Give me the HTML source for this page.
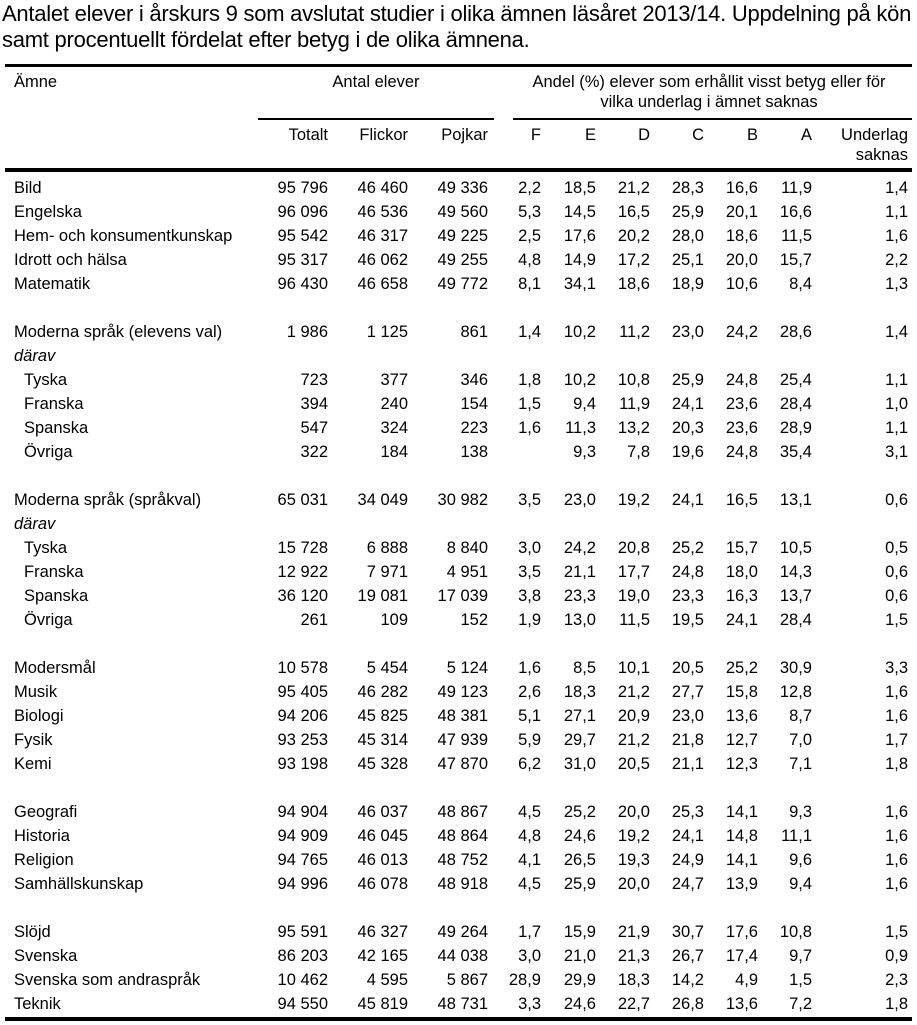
<!DOCTYPE html>
<html><head><meta charset="utf-8"><style>
body{margin:0;width:917px;height:1024px;background:#fff;position:relative;overflow:hidden;font-family:"Liberation Sans",Arial,sans-serif;color:#000}
.t{position:absolute;left:2px;font-size:22px;white-space:nowrap;letter-spacing:-0.25px;line-height:26px}
.r{position:absolute;left:0;width:917px;height:24px;line-height:24px;font-size:16.5px;white-space:nowrap}
.r span{position:absolute;top:0}
.l{left:14px}.i{left:24px}
.a{right:589px}.b{right:509px}.c{right:429px}.d{right:376px}.e{right:321px}.f{right:267px}.g{right:213px}.h{right:159px}.k{right:105px}.m{right:9px}
.rule{position:absolute;background:#000}
.hd{position:absolute;font-size:16.5px;line-height:20px;white-space:nowrap}
#body{position:absolute;left:0;top:1px;width:917px;height:1024px}
</style></head><body>
<div class="t" style="top:1px">Antalet elever i årskurs 9 som avslutat studier i olika ämnen läsåret 2013/14. Uppdelning på kön</div>
<div class="t" style="top:27px">samt procentuellt fördelat efter betyg i de olika ämnena.</div>
<div class="rule" style="left:5px;width:907px;top:64px;height:3px"></div>
<div class="hd" style="left:14px;top:72px">Ämne</div>
<div class="hd" style="left:258px;width:236px;text-align:center;top:72px">Antal elever</div>
<div class="hd" style="left:507px;width:404px;text-align:center;top:72px">Andel (%) elever som erhållit visst betyg eller för<br>vilka underlag i ämnet saknas</div>
<div class="rule" style="left:258px;width:236px;top:118px;height:2px"></div>
<div class="rule" style="left:513px;width:399px;top:118px;height:2px"></div>
<div class="r" style="top:123px"><span class="a">Totalt</span><span class="b">Flickor</span><span class="c">Pojkar</span><span class="d">F</span><span class="e">E</span><span class="f">D</span><span class="g">C</span><span class="h">B</span><span class="k">A</span></div>
<div class="hd" style="right:9px;top:125px;text-align:right">Underlag<br>saknas</div>
<div class="rule" style="left:5px;width:907px;top:168px;height:4px"></div>
<div id="body">
<div class="r" style="top:175px"><span class="l">Bild</span><span class="a">95 796</span><span class="b">46 460</span><span class="c">49 336</span><span class="d">2,2</span><span class="e">18,5</span><span class="f">21,2</span><span class="g">28,3</span><span class="h">16,6</span><span class="k">11,9</span><span class="m">1,4</span></div>
<div class="r" style="top:199px"><span class="l">Engelska</span><span class="a">96 096</span><span class="b">46 536</span><span class="c">49 560</span><span class="d">5,3</span><span class="e">14,5</span><span class="f">16,5</span><span class="g">25,9</span><span class="h">20,1</span><span class="k">16,6</span><span class="m">1,1</span></div>
<div class="r" style="top:223px"><span class="l">Hem- och konsumentkunskap</span><span class="a">95 542</span><span class="b">46 317</span><span class="c">49 225</span><span class="d">2,5</span><span class="e">17,6</span><span class="f">20,2</span><span class="g">28,0</span><span class="h">18,6</span><span class="k">11,5</span><span class="m">1,6</span></div>
<div class="r" style="top:247px"><span class="l">Idrott och hälsa</span><span class="a">95 317</span><span class="b">46 062</span><span class="c">49 255</span><span class="d">4,8</span><span class="e">14,9</span><span class="f">17,2</span><span class="g">25,1</span><span class="h">20,0</span><span class="k">15,7</span><span class="m">2,2</span></div>
<div class="r" style="top:271px"><span class="l">Matematik</span><span class="a">96 430</span><span class="b">46 658</span><span class="c">49 772</span><span class="d">8,1</span><span class="e">34,1</span><span class="f">18,6</span><span class="g">18,9</span><span class="h">10,6</span><span class="k">8,4</span><span class="m">1,3</span></div>

<div class="r" style="top:319px"><span class="l">Moderna språk (elevens val)</span><span class="a">1 986</span><span class="b">1 125</span><span class="c">861</span><span class="d">1,4</span><span class="e">10,2</span><span class="f">11,2</span><span class="g">23,0</span><span class="h">24,2</span><span class="k">28,6</span><span class="m">1,4</span></div>
<div class="r" style="top:343px"><span class="l"><i>därav</i></span></div>
<div class="r" style="top:367px"><span class="i">Tyska</span><span class="a">723</span><span class="b">377</span><span class="c">346</span><span class="d">1,8</span><span class="e">10,2</span><span class="f">10,8</span><span class="g">25,9</span><span class="h">24,8</span><span class="k">25,4</span><span class="m">1,1</span></div>
<div class="r" style="top:391px"><span class="i">Franska</span><span class="a">394</span><span class="b">240</span><span class="c">154</span><span class="d">1,5</span><span class="e">9,4</span><span class="f">11,9</span><span class="g">24,1</span><span class="h">23,6</span><span class="k">28,4</span><span class="m">1,0</span></div>
<div class="r" style="top:415px"><span class="i">Spanska</span><span class="a">547</span><span class="b">324</span><span class="c">223</span><span class="d">1,6</span><span class="e">11,3</span><span class="f">13,2</span><span class="g">20,3</span><span class="h">23,6</span><span class="k">28,9</span><span class="m">1,1</span></div>
<div class="r" style="top:439px"><span class="i">Övriga</span><span class="a">322</span><span class="b">184</span><span class="c">138</span><span class="e">9,3</span><span class="f">7,8</span><span class="g">19,6</span><span class="h">24,8</span><span class="k">35,4</span><span class="m">3,1</span></div>

<div class="r" style="top:487px"><span class="l">Moderna språk (språkval)</span><span class="a">65 031</span><span class="b">34 049</span><span class="c">30 982</span><span class="d">3,5</span><span class="e">23,0</span><span class="f">19,2</span><span class="g">24,1</span><span class="h">16,5</span><span class="k">13,1</span><span class="m">0,6</span></div>
<div class="r" style="top:511px"><span class="l"><i>därav</i></span></div>
<div class="r" style="top:535px"><span class="i">Tyska</span><span class="a">15 728</span><span class="b">6 888</span><span class="c">8 840</span><span class="d">3,0</span><span class="e">24,2</span><span class="f">20,8</span><span class="g">25,2</span><span class="h">15,7</span><span class="k">10,5</span><span class="m">0,5</span></div>
<div class="r" style="top:559px"><span class="i">Franska</span><span class="a">12 922</span><span class="b">7 971</span><span class="c">4 951</span><span class="d">3,5</span><span class="e">21,1</span><span class="f">17,7</span><span class="g">24,8</span><span class="h">18,0</span><span class="k">14,3</span><span class="m">0,6</span></div>
<div class="r" style="top:583px"><span class="i">Spanska</span><span class="a">36 120</span><span class="b">19 081</span><span class="c">17 039</span><span class="d">3,8</span><span class="e">23,3</span><span class="f">19,0</span><span class="g">23,3</span><span class="h">16,3</span><span class="k">13,7</span><span class="m">0,6</span></div>
<div class="r" style="top:607px"><span class="i">Övriga</span><span class="a">261</span><span class="b">109</span><span class="c">152</span><span class="d">1,9</span><span class="e">13,0</span><span class="f">11,5</span><span class="g">19,5</span><span class="h">24,1</span><span class="k">28,4</span><span class="m">1,5</span></div>

<div class="r" style="top:655px"><span class="l">Modersmål</span><span class="a">10 578</span><span class="b">5 454</span><span class="c">5 124</span><span class="d">1,6</span><span class="e">8,5</span><span class="f">10,1</span><span class="g">20,5</span><span class="h">25,2</span><span class="k">30,9</span><span class="m">3,3</span></div>
<div class="r" style="top:679px"><span class="l">Musik</span><span class="a">95 405</span><span class="b">46 282</span><span class="c">49 123</span><span class="d">2,6</span><span class="e">18,3</span><span class="f">21,2</span><span class="g">27,7</span><span class="h">15,8</span><span class="k">12,8</span><span class="m">1,6</span></div>
<div class="r" style="top:703px"><span class="l">Biologi</span><span class="a">94 206</span><span class="b">45 825</span><span class="c">48 381</span><span class="d">5,1</span><span class="e">27,1</span><span class="f">20,9</span><span class="g">23,0</span><span class="h">13,6</span><span class="k">8,7</span><span class="m">1,6</span></div>
<div class="r" style="top:727px"><span class="l">Fysik</span><span class="a">93 253</span><span class="b">45 314</span><span class="c">47 939</span><span class="d">5,9</span><span class="e">29,7</span><span class="f">21,2</span><span class="g">21,8</span><span class="h">12,7</span><span class="k">7,0</span><span class="m">1,7</span></div>
<div class="r" style="top:751px"><span class="l">Kemi</span><span class="a">93 198</span><span class="b">45 328</span><span class="c">47 870</span><span class="d">6,2</span><span class="e">31,0</span><span class="f">20,5</span><span class="g">21,1</span><span class="h">12,3</span><span class="k">7,1</span><span class="m">1,8</span></div>

<div class="r" style="top:799px"><span class="l">Geografi</span><span class="a">94 904</span><span class="b">46 037</span><span class="c">48 867</span><span class="d">4,5</span><span class="e">25,2</span><span class="f">20,0</span><span class="g">25,3</span><span class="h">14,1</span><span class="k">9,3</span><span class="m">1,6</span></div>
<div class="r" style="top:823px"><span class="l">Historia</span><span class="a">94 909</span><span class="b">46 045</span><span class="c">48 864</span><span class="d">4,8</span><span class="e">24,6</span><span class="f">19,2</span><span class="g">24,1</span><span class="h">14,8</span><span class="k">11,1</span><span class="m">1,6</span></div>
<div class="r" style="top:847px"><span class="l">Religion</span><span class="a">94 765</span><span class="b">46 013</span><span class="c">48 752</span><span class="d">4,1</span><span class="e">26,5</span><span class="f">19,3</span><span class="g">24,9</span><span class="h">14,1</span><span class="k">9,6</span><span class="m">1,6</span></div>
<div class="r" style="top:871px"><span class="l">Samhällskunskap</span><span class="a">94 996</span><span class="b">46 078</span><span class="c">48 918</span><span class="d">4,5</span><span class="e">25,9</span><span class="f">20,0</span><span class="g">24,7</span><span class="h">13,9</span><span class="k">9,4</span><span class="m">1,6</span></div>

<div class="r" style="top:919px"><span class="l">Slöjd</span><span class="a">95 591</span><span class="b">46 327</span><span class="c">49 264</span><span class="d">1,7</span><span class="e">15,9</span><span class="f">21,9</span><span class="g">30,7</span><span class="h">17,6</span><span class="k">10,8</span><span class="m">1,5</span></div>
<div class="r" style="top:943px"><span class="l">Svenska</span><span class="a">86 203</span><span class="b">42 165</span><span class="c">44 038</span><span class="d">3,0</span><span class="e">21,0</span><span class="f">21,3</span><span class="g">26,7</span><span class="h">17,4</span><span class="k">9,7</span><span class="m">0,9</span></div>
<div class="r" style="top:967px"><span class="l">Svenska som andraspråk</span><span class="a">10 462</span><span class="b">4 595</span><span class="c">5 867</span><span class="d">28,9</span><span class="e">29,9</span><span class="f">18,3</span><span class="g">14,2</span><span class="h">4,9</span><span class="k">1,5</span><span class="m">2,3</span></div>
<div class="r" style="top:991px"><span class="l">Teknik</span><span class="a">94 550</span><span class="b">45 819</span><span class="c">48 731</span><span class="d">3,3</span><span class="e">24,6</span><span class="f">22,7</span><span class="g">26,8</span><span class="h">13,6</span><span class="k">7,2</span><span class="m">1,8</span></div>
<div class="rule" style="left:5px;width:907px;top:1016px;height:4px"></div>
</div>
</body></html>
